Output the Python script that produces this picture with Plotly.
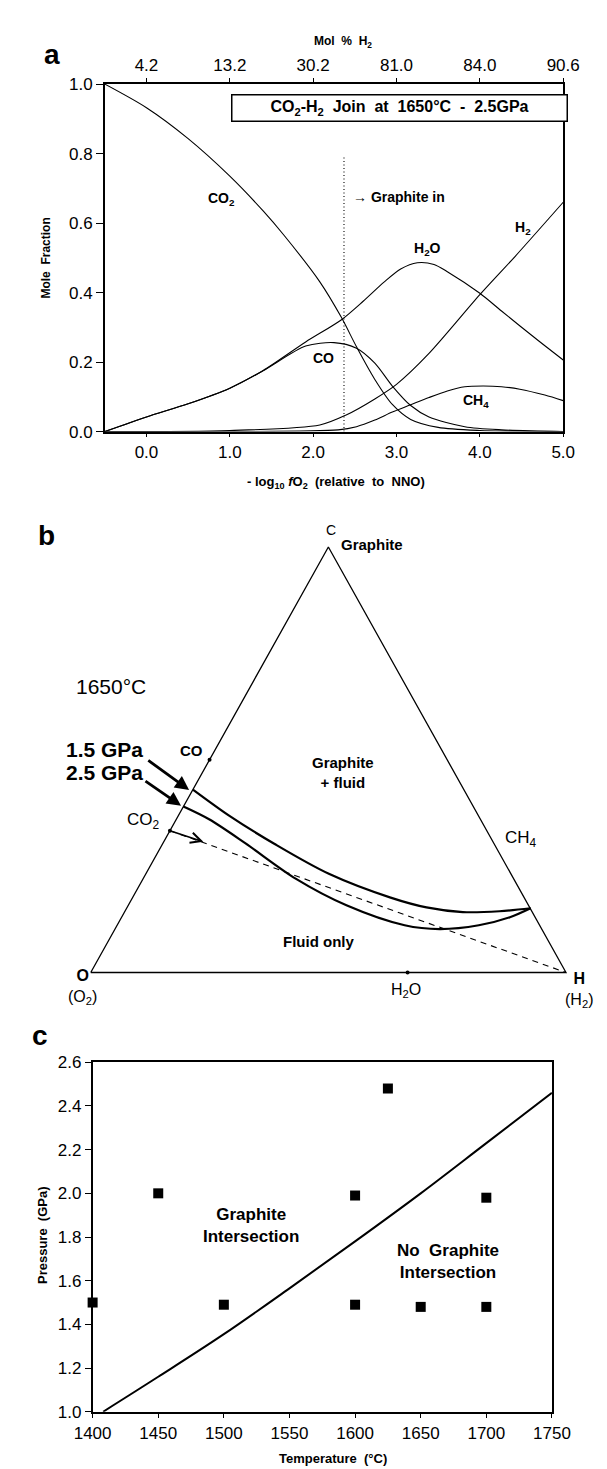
import plotly.graph_objects as go

FONT = "Liberation Sans, Arial, Helvetica, sans-serif"
NB = "\u00a0"

# ---------------- Panel a data ----------------
co2_x = [-0.5, 0.0, 0.5, 1.0, 1.4, 1.65, 2.08, 2.34, 2.52, 2.74, 2.95, 3.17, 3.5, 4.0, 4.5, 5.0]
co2_y = [1.0, 0.932, 0.843, 0.735, 0.635, 0.565, 0.431, 0.328, 0.244, 0.150, 0.078, 0.035, 0.012, 0.003, 0.001, 0.0]

h2o_x = [-0.5, 0.0, 0.5, 1.0, 1.4, 1.91, 2.34, 2.6, 2.85, 3.05, 3.25, 3.45, 3.61, 4.0, 4.26, 4.7, 5.0]
h2o_y = [0.0, 0.042, 0.08, 0.125, 0.176, 0.258, 0.322, 0.375, 0.43, 0.468, 0.486, 0.481, 0.46, 0.398, 0.347, 0.262, 0.206]

co_x = [-0.5, 0.0, 0.5, 1.0, 1.4, 1.91, 2.25, 2.52, 2.74, 2.95, 3.17, 3.39, 3.82, 4.26, 5.0]
co_y = [0.0, 0.042, 0.08, 0.125, 0.175, 0.246, 0.256, 0.240, 0.197, 0.131, 0.075, 0.042, 0.014, 0.005, 0.0]

h2_x = [-0.5, 1.0, 2.08, 2.39, 2.74, 3.0, 3.39, 4.0, 4.43, 5.0]
h2_y = [0.0, 0.003, 0.019, 0.047, 0.094, 0.136, 0.225, 0.394, 0.506, 0.66]

ch4_x = [-0.5, 1.0, 2.3, 2.52, 2.74, 2.95, 3.17, 3.39, 3.61, 3.82, 4.04, 4.26, 4.48, 4.78, 5.0]
ch4_y = [0.0, 0.0, 0.005, 0.014, 0.033, 0.056, 0.077, 0.098, 0.117, 0.129, 0.131, 0.129, 0.122, 0.105, 0.089]

graphite_in_x = 2.37
graphite_in_top = 0.79

top_tickvals = [0, 1, 2, 3, 4, 5]
top_ticktext = ["4.2", "13.2", "30.2", "81.0", "84.0", "90.6"]

# ---------------- Panel b data (ternary C-H-O, mole fractions C and H) ----------------
tri_C = [0.0, 0.0, 1.0, 0.0]      # O, H, C, O
tri_H = [0.0, 1.0, 0.0, 0.0]

p15_C = [0.43, 0.367, 0.302, 0.232, 0.176, 0.153, 0.142, 0.144, 0.151]
p15_H = [0.0, 0.110, 0.236, 0.385, 0.543, 0.630, 0.712, 0.788, 0.850]
p25_C = [0.39, 0.360, 0.304, 0.220, 0.158, 0.111, 0.102, 0.111, 0.130, 0.151]
p25_H = [0.0, 0.069, 0.173, 0.322, 0.459, 0.605, 0.683, 0.761, 0.817, 0.850]

species_names = ["CO", "CO2", "H2O"]
species_C = [0.5, 1/3, 0.0]
species_H = [0.0, 0.0, 2/3]

join_C = [1/3, 0.0]   # CO2 -> H2 join
join_H = [0.0, 1.0]

# ---------------- Panel c data ----------------
exp_T = [1400, 1450, 1500, 1600, 1600, 1625, 1625, 1650, 1700, 1700]
exp_P = [1.50, 2.00, 1.49, 1.99, 1.49, 2.48, 0.98, 1.48, 1.98, 1.48]

bound_T = [1408, 1450, 1500, 1550, 1600, 1650, 1700, 1750]
bound_P = [1.0, 1.16, 1.355, 1.565, 1.78, 2.0, 2.23, 2.46]


def tern(C, H):
    return [h + c / 2 for c, h in zip(C, H)], list(C)


fig = go.Figure()

for xs, ys in [(co2_x, co2_y), (h2o_x, h2o_y), (co_x, co_y), (h2_x, h2_y), (ch4_x, ch4_y)]:
    fig.add_trace(go.Scatter(x=xs, y=ys, mode="lines", line=dict(color="black", width=1.1, shape="spline", smoothing=0.8),
                             xaxis="x", yaxis="y", cliponaxis=False, showlegend=False, hoverinfo="skip"))
# invisible anchor trace for the top (Mol % H2) axis
fig.add_trace(go.Scatter(x=[0], y=[0.5], mode="markers", marker=dict(opacity=0), xaxis="x4", yaxis="y",
                         showlegend=False, hoverinfo="skip"))

# panel b
tx, ty = tern(tri_C, tri_H)
fig.add_trace(go.Scatter(x=tx, y=ty, mode="lines", line=dict(color="black", width=1.3), xaxis="x3", yaxis="y3",
                         showlegend=False, hoverinfo="skip", cliponaxis=False))
jx, jy = tern(join_C, join_H)
fig.add_trace(go.Scatter(x=jx, y=jy, mode="lines", line=dict(color="black", width=1.1, dash="6px,5px"), xaxis="x3", yaxis="y3",
                         showlegend=False, hoverinfo="skip"))
for C, H in [(p15_C, p15_H), (p25_C, p25_H)]:
    cx, cy = tern(C, H)
    fig.add_trace(go.Scatter(x=cx, y=cy, mode="lines", line=dict(color="black", width=2.2, shape="spline", smoothing=0.9),
                             xaxis="x3", yaxis="y3", showlegend=False, hoverinfo="skip"))
sx, sy = tern(species_C, species_H)
fig.add_trace(go.Scatter(x=sx, y=sy, mode="markers", marker=dict(color="black", size=4), xaxis="x3", yaxis="y3",
                         showlegend=False, hoverinfo="skip", cliponaxis=False))

# panel c
fig.add_trace(go.Scatter(x=bound_T, y=bound_P, mode="lines", line=dict(color="black", width=2, shape="spline"),
                         xaxis="x2", yaxis="y2", showlegend=False, hoverinfo="skip", cliponaxis=False))
fig.add_trace(go.Scatter(x=exp_T, y=exp_P, mode="markers", marker=dict(color="black", size=10, symbol="square"),
                         xaxis="x2", yaxis="y2", showlegend=False, hoverinfo="skip", cliponaxis=False))

ax_common = dict(showgrid=False, zeroline=False, showline=True, linecolor="black", linewidth=1.5,
                 ticks="outside", tickcolor="black", tickwidth=1.2, mirror=True,
                 tickfont=dict(family=FONT, size=17, color="black"))

fig.update_layout(
    width=607, height=1469, margin=dict(l=0, r=0, t=0, b=0),
    paper_bgcolor="white", plot_bgcolor="rgba(0,0,0,0)",
    font=dict(family=FONT, color="black"),
    xaxis=dict(domain=[83/607, 572/607], anchor="y", range=[-0.5, 5.0], tick0=0, dtick=1, tickformat=".1f",
               ticklen=4, **ax_common),
    yaxis=dict(domain=[1-420/1469, 1-68/1469], anchor="x", range=[0, 1.0], tick0=0, dtick=0.2, tickformat=".1f",
               ticklen=7, **ax_common),
    xaxis4=dict(overlaying="x", side="top", anchor="y", range=[-0.5, 5.0], tickvals=top_tickvals, ticktext=top_ticktext,
                ticks="outside", ticklen=5, tickcolor="black", showline=False, showgrid=False, zeroline=False,
                tickfont=dict(family=FONT, size=17, color="black")),
    xaxis3=dict(domain=[0, 1], anchor="y3", range=[-68/507, 539/507], visible=False),
    yaxis3=dict(domain=[1-1010/1469, 1-500/1469], anchor="x3", range=[-42/431, 468/431], visible=False),
    xaxis2=dict(domain=[70/607, 560/607], anchor="y2", range=[1400, 1750], tick0=1400, dtick=50,
                ticklen=5, **ax_common),
    yaxis2=dict(domain=[1-1413/1469, 1-1059/1469], anchor="x2", range=[1.0, 2.6], tick0=1.0, dtick=0.2, tickformat=".1f",
                ticklen=6, **ax_common),
)

ann = []


def txt(x, y, t, size=14, bold=False, xref="paper", yref="paper", xanchor="center", angle=0):
    ann.append(dict(x=x, y=y, xref=xref, yref=yref, text=("<b>%s</b>" % t) if bold else t, showarrow=False,
                    xanchor=xanchor, yanchor="middle", textangle=angle,
                    font=dict(family=FONT, size=size, color="black")))


# panel letters
txt(27/607, 1-38/1469, "a", 28, True)
txt(21/607, 1-525/1469, "b", 28, True)
txt(14/607, 1-1032/1469, "c", 28, True)

# panel a titles
txt(337/607, 1-25/1469, "Mol" + NB*2 + "%" + NB*2 + "H<sub>2</sub>", 12, True)
txt(330/607, 1-472/1469, "-" + NB + "log<sub>10</sub>" + NB + "<i>f</i>O<sub>2</sub>" + NB*2 + "(relative" + NB*2 + "to" + NB*2 + "NNO)", 13, True)
txt(20/607, 1-244/1469, "Mole" + NB*2 + "Fraction", 12, True, angle=-90)

# panel a labels
txt(0.90, 0.668, "CO<sub>2</sub>", 14, True, "x", "y")
txt(3.37, 0.525, "H<sub>2</sub>O", 14, True, "x", "y")
txt(4.52, 0.585, "H<sub>2</sub>", 14, True, "x", "y")
txt(2.13, 0.212, "CO", 14, True, "x", "y")
txt(3.95, 0.088, "CH<sub>4</sub>", 14, True, "x", "y")
txt(2.45, 0.676, "→" + NB + "Graphite" + NB + "in", 14, True, "x", "y", xanchor="left")
ann.append(dict(x=3.04, y=0.93, xref="x", yref="y", showarrow=False, width=332, height=23,
                text="<b>CO<sub>2</sub>-H<sub>2</sub>" + NB*2 + "Join" + NB*2 + "at" + NB*2 + "1650°C" + NB*2 + "-" + NB*2 + "2.5GPa</b>",
                font=dict(family=FONT, size=16, color="black"), bordercolor="black", borderwidth=1.5, borderpad=1,
                bgcolor="white"))

# panel b labels
b = dict(xref="x3", yref="y3")
txt(0.505, 1.039, "C", 14, False, **b)
txt(0.523, 1.005, "Graphite", 15, True, xanchor="left", **b)
txt(-0.036, 0.673, "1650°C", 21, False, xanchor="left", **b)
txt(-0.057, 0.524, "1.5" + NB + "GPa", 21, True, xanchor="left", **b)
txt(-0.057, 0.471, "2.5" + NB + "GPa", 21, True, xanchor="left", **b)
txt(0.211, 0.522, "CO", 15, True, **b)
txt(0.531, 0.471, "Graphite<br>+" + NB + "fluid", 15, True, **b)
txt(0.112, 0.355, "CO<sub>2</sub>", 17, False, **b)
txt(0.905, 0.313, "CH<sub>4</sub>", 17, False, **b)
txt(0.479, 0.072, "Fluid" + NB + "only", 15, True, **b)
txt(-0.018, -0.034, "<b>O</b><br>(O<sub>2</sub>)", 16, False, **b)
txt(0.663, -0.042, "H<sub>2</sub>O", 16, False, **b)
txt(1.028, -0.041, "<b>H</b><br>(H<sub>2</sub>)", 16, False, **b)

# arrows in panel b
ann.append(dict(x=0.207, y=0.429, ax=0.118, ay=0.501, xref="x3", yref="y3", axref="x3", ayref="y3",
                showarrow=True, arrowhead=2, arrowsize=1.0, arrowwidth=2.8, arrowcolor="black", text=""))
ann.append(dict(x=0.190, y=0.392, ax=0.112, ay=0.452, xref="x3", yref="y3", axref="x3", ayref="y3",
                showarrow=True, arrowhead=2, arrowsize=1.0, arrowwidth=2.8, arrowcolor="black", text=""))
ann.append(dict(x=0.237, y=0.307, ax=1/6, ay=1/3, xref="x3", yref="y3", axref="x3", ayref="y3",
                showarrow=True, arrowhead=5, arrowsize=1.3, arrowwidth=1.6, arrowcolor="black", text=""))

# panel c titles and labels
txt(326/607, 1-1460/1469, "Temperature" + NB*2 + "(°C)", 13, True)
txt(16/607, 1-1234/1469, "Pressure" + NB*2 + "(GPa)", 13, True, angle=-90)
c = dict(xref="x2", yref="y2")
txt(1520.7, 1.855, "Graphite<br>Intersection", 17, True, **c)
txt(1671, 1.69, "No" + NB*2 + "Graphite<br>Intersection", 17, True, **c)

fig.update_layout(annotations=ann)
fig.add_shape(type="line", xref="x", yref="y", x0=graphite_in_x, x1=graphite_in_x, y0=0, y1=graphite_in_top,
              line=dict(color="black", width=1.1, dash="1px,2.5px"))

fig.write_html("out.html")
